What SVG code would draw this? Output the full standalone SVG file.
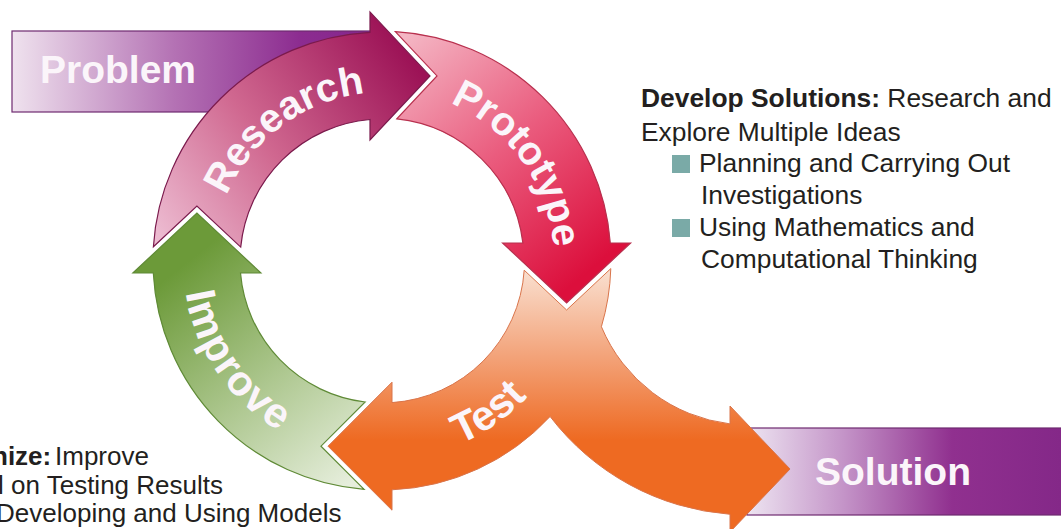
<svg xmlns="http://www.w3.org/2000/svg" width="1061" height="529" viewBox="0 0 1061 529">
<style>
.lbl{font-family:"Liberation Sans",Arial,sans-serif;font-weight:bold;fill:#fbf5fa}
.body{font-family:"Liberation Sans",Arial,sans-serif;font-size:26px;fill:#231f20}
.rt{font-size:26.4px}
.b{font-weight:bold}
.bul{fill:#7aaaa7}
</style>
<defs>
<linearGradient id="gProb" gradientUnits="userSpaceOnUse" x1="12" y1="0" x2="372" y2="0">
<stop offset="0" stop-color="#efe2ee"/><stop offset="0.45" stop-color="#b472b4"/><stop offset="0.8" stop-color="#8c2c90"/><stop offset="1" stop-color="#84268c"/>
</linearGradient>
<linearGradient id="gSol" gradientUnits="userSpaceOnUse" x1="750" y1="0" x2="1061" y2="0">
<stop offset="0" stop-color="#ece2f0"/><stop offset="0.3" stop-color="#c494c8"/><stop offset="0.65" stop-color="#90308f"/><stop offset="1" stop-color="#842888"/>
</linearGradient>
<linearGradient id="gRes" gradientUnits="userSpaceOnUse" x1="170" y1="250" x2="420" y2="70">
<stop offset="0" stop-color="#ecbad0"/><stop offset="0.45" stop-color="#d06890"/><stop offset="1" stop-color="#9c1256"/>
</linearGradient>
<linearGradient id="gPro" gradientUnits="userSpaceOnUse" x1="400" y1="40" x2="590" y2="270">
<stop offset="0" stop-color="#f4b6c4"/><stop offset="0.5" stop-color="#ea5c7e"/><stop offset="1" stop-color="#dc0f3c"/>
</linearGradient>
<linearGradient id="gTest" gradientUnits="userSpaceOnUse" x1="0" y1="275" x2="0" y2="440">
<stop offset="0" stop-color="#f9dccb"/><stop offset="0.5" stop-color="#f3a278"/><stop offset="1" stop-color="#ee6a22"/>
</linearGradient>
<linearGradient id="gImp" gradientUnits="userSpaceOnUse" x1="360" y1="475" x2="190" y2="260">
<stop offset="0" stop-color="#e6eedc"/><stop offset="0.45" stop-color="#b0c993"/><stop offset="1" stop-color="#6c9a39"/>
</linearGradient>
<path id="tpRes" d="M213.1,280.2 A172,172 0 0 1 449.8,105.1"/>
<path id="tpPro" d="M365.2,89.8 A172,172 0 0 1 538.6,332.1"/>
<path id="tpTest" d="M297.9,441.4 A199,199 0 0 0 580.2,243.6"/>
<path id="tpImp" d="M202.8,174.4 A199,199 0 0 0 396.6,459.5"/>
</defs>

<g id="problem">
<rect x="12" y="31" width="360" height="81" fill="url(#gProb)" stroke="#6e2a70" stroke-width="1.2"/>
<text class="lbl" x="40" y="83" font-size="39">Problem</text>
</g>

<g id="solution">
<rect x="747" y="428" width="320" height="87" fill="url(#gSol)" stroke="#6e2a70" stroke-width="1.2"/>
<text class="lbl" x="815" y="485" font-size="39">Solution</text>
</g>

<g id="connectors">
<g id="research">
<path d="M153.4,246.7 L196.9,206 L240.7,247.1 A142,142 0 0 1 370,119.5 L370,139.9 L430,75.9 L370,11.9 L370,32.3 A229,229 0 0 0 153.4,246.7 Z" fill="url(#gRes)" stroke="#7a1a4c" stroke-width="1.2"/>
<text class="lbl" font-size="40"><textPath href="#tpRes" startOffset="50%" text-anchor="middle">Research</textPath></text>
</g>
<g id="prototype">
<path d="M395.3,31.6 L437,75.9 L396.8,118.8 A142,142 0 0 1 522.9,243 L502.6,243 L566.6,303 L630.6,243 L610.3,243 A229,229 0 0 0 395.3,31.6 Z" fill="url(#gPro)" stroke="#b8304e" stroke-width="1.2"/>
<text class="lbl" font-size="40"><textPath href="#tpPro" startOffset="50%" text-anchor="middle">Prototype</textPath></text>
</g>
<g id="improve">
<path d="M364.1,489.3 L321,446.2 L365.2,402 A142,142 0 0 1 240.5,273 L260.9,273 L196.9,213 L132.9,273 L153.3,273 A229,229 0 0 0 364.1,489.3 Z" fill="url(#gImp)" stroke="#5f8a36" stroke-width="1.2"/>
<text class="lbl" font-size="42" letter-spacing="1.5"><textPath href="#tpImp" startOffset="50%" text-anchor="middle">Improve</textPath></text>
</g>
<g id="test">
<path d="M524.2,270.2 L566.6,310 L610.8,268.6 A229,229 0 0 1 601.4,326.7 A160,160 0 0 0 730,423.9 L730,406 L790,469 L730,532 L730,514.3 A250,250 0 0 1 550.1,416.5 A229,229 0 0 1 392,489.8 L392,510.2 L328,446.2 L392,382.2 L392,402.6 A142,142 0 0 0 524.2,270.2 Z" fill="url(#gTest)" stroke="#d9744a" stroke-width="1"/>
<text class="lbl" font-size="42"><textPath href="#tpTest" startOffset="50%" text-anchor="middle">Test</textPath></text>
</g>
</g>

<g id="develop-notes">
<text class="body rt" x="641" y="107"><tspan class="b">Develop Solutions:</tspan> Research and</text>
<text class="body rt" x="641" y="141">Explore Multiple Ideas</text>
<rect class="bul" x="672" y="155" width="18" height="18"/>
<text class="body rt" x="699" y="172">Planning and Carrying Out</text>
<text class="body rt" x="701" y="204">Investigations</text>
<rect class="bul" x="672" y="219" width="18" height="18"/>
<text class="body rt" x="699" y="236">Using Mathematics and</text>
<text class="body rt" x="701" y="268">Computational Thinking</text>
</g>

<g id="optimize-notes">
<text class="body" x="-8" y="465"><tspan class="b">nize:</tspan><tspan x="55">Improve</tspan></text>
<text class="body" x="-2" y="494">l on Testing Results</text>
<text class="body" x="-4" y="522">Developing and Using Models</text>
</g>
</svg>
